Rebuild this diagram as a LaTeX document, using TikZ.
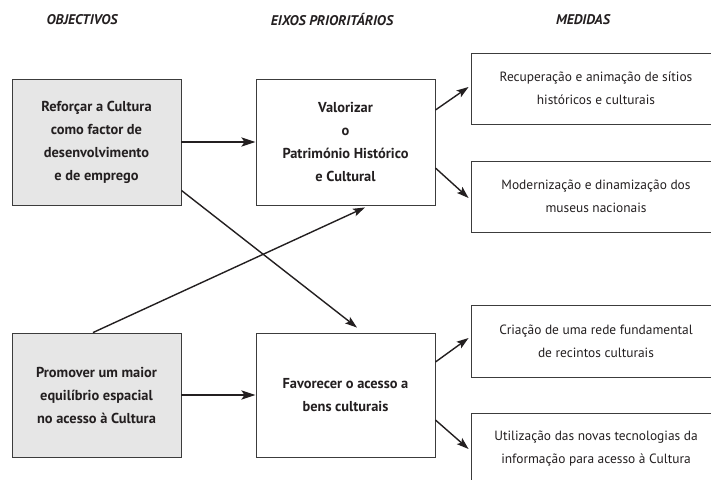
\documentclass[tikz,border=0pt]{standalone}
\usepackage{fontspec}
\setmainfont{PT Sans}
\usetikzlibrary{arrows.meta,calc}
\definecolor{boxgray}{HTML}{E6E6E6}
\definecolor{ink}{HTML}{231F20}
\definecolor{edge}{HTML}{3C3C3C}
\begin{document}
\begin{tikzpicture}[x=1pt,y=-1pt,
  header/.style={font=\bfseries\itshape\fontsize{14}{16}\selectfont, text=ink, inner sep=0pt},
  objbox/.style={draw=edge, line width=0.9pt, fill=boxgray, align=center, text=ink,
    font=\bfseries\fontsize{14.4}{23}\selectfont},
  eixbox/.style={draw=edge, line width=0.9pt, fill=white, align=center, text=ink,
    font=\bfseries\fontsize{14.4}{23}\selectfont},
  medbox/.style={draw=edge, line width=0.9pt, fill=white, align=center, text=ink,
    font=\fontsize{13.4}{23}\selectfont, minimum width=250pt},
  thick arrow/.style={draw=ink, line width=2.4pt, -{Stealth[length=14pt,width=9pt,inset=3pt]}},
  thin arrow/.style={draw=ink, line width=1.4pt, -{Stealth[length=12pt,width=8pt,inset=2.5pt]}}
]
\clip (0,0) rectangle (711,479);
\fill[white] (0,0) rectangle (711,479);

\node[header] (h1) at (82,20) {OBJECTIVOS};
\node[header] (h2) at (332,20) {EIXOS PRIORITÁRIOS};
\node[header] (h3) at (583,20) {MEDIDAS};

\node[objbox, minimum width=169pt, minimum height=126pt] (o1) at (96.5,142)
  {Reforçar a Cultura\\como factor de\\desenvolvimento\\e de emprego};
\node[objbox, minimum width=169pt, minimum height=124pt] (o2) at (96.5,395)
  {Promover um maior\\equilíbrio espacial\\no acesso à Cultura};

\node[eixbox, minimum width=179pt, minimum height=126pt] (e1) at (345.5,142)
  {Valorizar\\o\\Património Histórico\\e Cultural};
\node[eixbox, minimum width=179pt, minimum height=124pt] (e2) at (345.5,395)
  {Favorecer o acesso a\\bens culturais};

\node[medbox, minimum height=71pt] (m1) at (596,88.5)
  {Recuperação e animação de sítios\\históricos e culturais};
\node[medbox, minimum height=71pt] (m2) at (596,196.5)
  {Modernização e dinamização dos\\museus nacionais};
\node[medbox, minimum height=72pt] (m3) at (596,341)
  {Criação de uma rede fundamental\\de recintos culturais};
\node[medbox, minimum height=71pt] (m4) at (596,448.5)
  {Utilização das novas tecnologias da\\informação para acesso à Cultura};

\draw[thick arrow] (o1.east) -- (e1.west);
\draw[thick arrow] (o2.east) -- (e2.west);
\draw[thin arrow] ($(o1.south east)+(0,-15)$) -- ($(e2.north)+(11.5,-5)$);
\draw[thin arrow] ($(o2.north)+(-3.5,0)$) -- ($(e1.south)+(19.5,2)$);

\draw[thin arrow] ($(e1.east)+(0,-32)$) -- ($(m1.west)+(-2,-1.5)$);
\draw[thin arrow] ($(e1.east)+(0,26)$) -- ($(m2.west)+(-2,1.5)$);
\draw[thin arrow] ($(e2.east)+(0,-33)$) -- ($(m3.west)+(-2,-3)$);
\draw[thin arrow] ($(e2.east)+(0,25)$) -- ($(m4.west)+(-2,0.5)$);
\end{tikzpicture}
\end{document}
